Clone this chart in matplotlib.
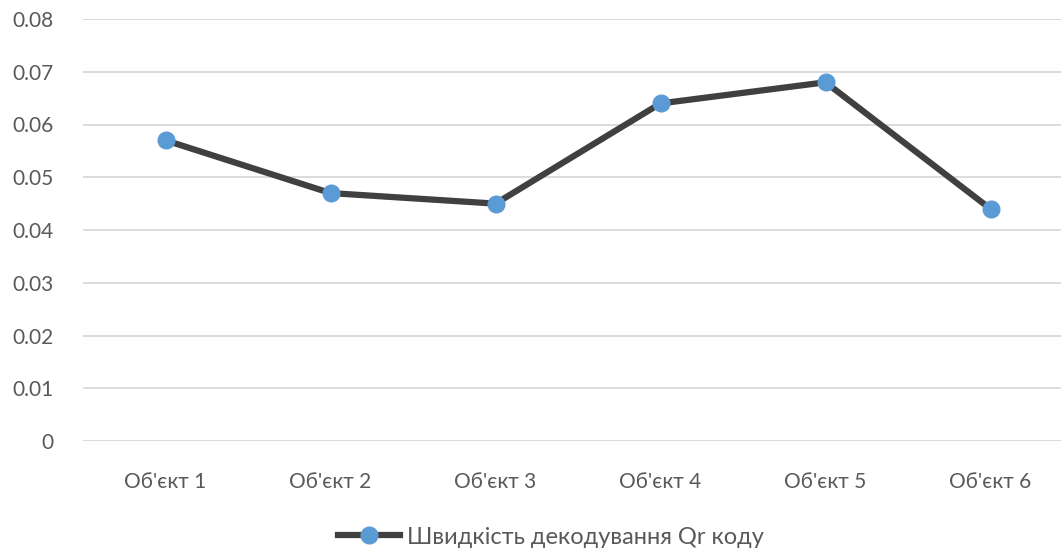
import matplotlib.pyplot as plt

categories = ["Об'єкт 1", "Об'єкт 2", "Об'єкт 3", "Об'єкт 4", "Об'єкт 5", "Об'єкт 6"]
speed = [0.057, 0.047, 0.045, 0.064, 0.068, 0.044]
yticks = [0, 0.01, 0.02, 0.03, 0.04, 0.05, 0.06, 0.07, 0.08]
ylabels = ['0', '0.01', '0.02', '0.03', '0.04', '0.05', '0.06', '0.07', '0.08']

plt.rcParams['font.family'] = ['Lato', 'DejaVu Sans']
text_col = '#595959'

fig = plt.figure(figsize=(10.61, 5.49), dpi=100)
W, H = 1061, 549
ax = fig.add_axes([83 / W, 1 - 441 / H, 990 / W, 422 / H])

x = list(range(len(categories)))
ax.plot(x, speed, color='#404040', lw=4.5, marker='o', markersize=12,
        markerfacecolor='#5B9BD5', markeredgecolor='#5B9BD5',
        label='Швидкість декодування Qr коду', solid_joinstyle='round')

ax.set_xlim(-0.5, len(categories) - 0.5)
ax.set_ylim(0, 0.08)
ax.set_yticks(yticks)
ax.set_yticklabels(ylabels)
ax.set_xticks(x)
ax.set_xticklabels(categories)
ax.grid(axis='y', color='#d9d9d9', lw=1.3)
ax.set_axisbelow(True)
for s in ax.spines.values():
    s.set_visible(False)
ax.tick_params(length=0, labelsize=15, colors=text_col)
ax.tick_params(axis='y', pad=21)
ax.tick_params(axis='x', pad=22)

leg = fig.legend(loc='center', bbox_to_anchor=(551 / W, 1 - 537 / H), frameon=False,
                 fontsize=17, handlelength=2.6, handletextpad=0.3)
for t in leg.get_texts():
    t.set_color(text_col)

fig.savefig('out.png', dpi=100)
